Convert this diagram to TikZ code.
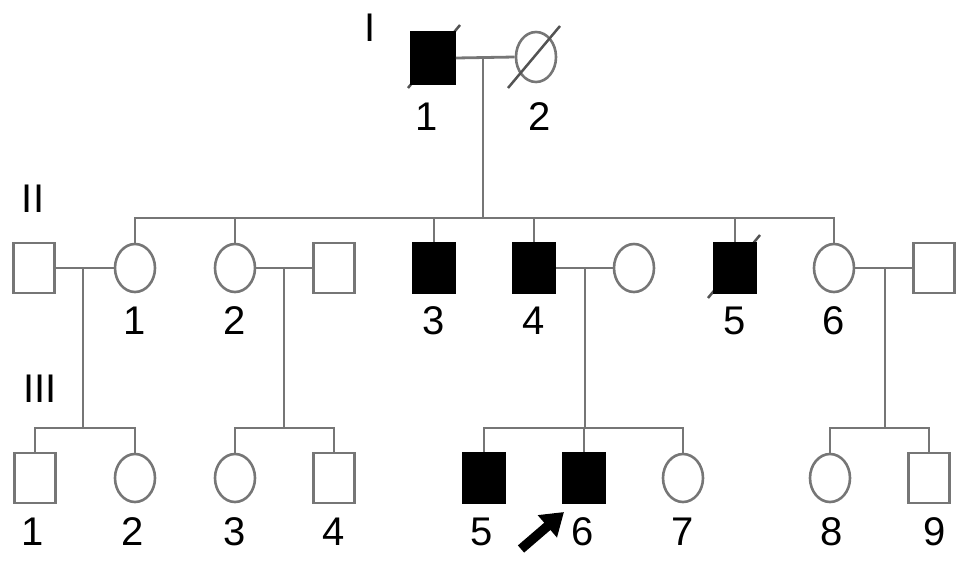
\documentclass[tikz,border=0pt]{standalone}
\usepackage{fontspec}
\setmainfont{Liberation Sans}
\usetikzlibrary{shapes.geometric,arrows.meta}
\definecolor{linegray}{RGB}{118,118,118}
\begin{document}
\begin{tikzpicture}[x=1pt,y=-1pt,
  male/.style={draw=linegray,line width=2.6pt,minimum width=41pt,minimum height=50pt,inner sep=0pt,fill=white},
  aff/.style={male,fill=black,draw=black},
  female/.style={ellipse,draw=linegray,line width=2.6pt,minimum width=40pt,minimum height=48pt,inner sep=0pt,fill=white},
  lnk/.style={draw=linegray,line width=2.8pt},
  dead/.style={draw=linegray!70!black,line width=2.5pt},
  num/.style={font=\fontsize{40}{40}\selectfont,inner sep=0pt},
  gen/.style={font=\fontsize{40}{40}\selectfont,inner sep=0pt}]
\useasboundingbox (0,0) rectangle (969,565);
% Generation I
\node[gen] (gI) at (370,28) {I};
\draw[dead] (408,88) -- (460,25);
\node[aff,minimum width=43pt,minimum height=52pt] (i1) at (433,58) {};
\node[female,minimum height=50pt] (i2) at (536,57) {};
\draw[dead] (508,88) -- (560,26);
\node[num] (li1) at (427,117) {1};
\node[num] (li2) at (540,117) {2};
\coordinate (mI) at (483,58);
\coordinate (sII) at (483,218);
\draw[lnk] (i1.east) -- (i2.west);
\draw[lnk] (mI) -- (sII);
% Generation II
\node[gen] (gII) at (33,199) {II};
\node[male] (s1) at (34,268) {};
\node[female] (ii1) at (135,268) {};
\node[female] (ii2) at (235,268) {};
\node[male] (s2) at (334,268) {};
\node[aff] (ii3) at (434,268) {};
\node[aff] (ii4) at (534,268) {};
\node[female] (s4) at (634,268) {};
\draw[dead] (708,298) -- (760,235);
\node[aff] (ii5) at (735,268) {};
\node[female] (ii6) at (834,268) {};
\node[male] (s6) at (934,268) {};
\node[num] (lii1) at (135,321) {1};
\node[num] (lii2) at (235,321) {2};
\node[num] (lii3) at (434,321) {3};
\node[num] (lii4) at (534,321) {4};
\node[num] (lii5) at (735,321) {5};
\node[num] (lii6) at (834,321) {6};
% sibship II
\draw[lnk] (ii1.north) |- (ii6.north |- sII) -- (ii6.north);
\draw[lnk] (ii2.north) -- (ii2.north |- sII);
\draw[lnk] (ii3.north) -- (ii3.north |- sII);
\draw[lnk] (ii4.north) -- (ii4.north |- sII);
\draw[lnk] (ii5.north) -- (ii5.north |- sII);
% marriages II
\draw[lnk] (s1.east) -- (ii1.west);
\draw[lnk] (ii2.east) -- (s2.west);
\draw[lnk] (ii4.east) -- (s4.west);
\draw[lnk] (ii6.east) -- (s6.west);
\coordinate (m1) at (83,268);
\coordinate (m2) at (284,268);
\coordinate (m4) at (585,268);
\coordinate (m6) at (885,268);
\draw[lnk] (m1) -- (83,428);
\draw[lnk] (m2) -- (284,428);
\draw[lnk] (m4) -- (585,428);
\draw[lnk] (m6) -- (885,428);
% Generation III
\node[gen] (gIII) at (40,389) {III};
\node[male] (iii1) at (35,478) {};
\node[female] (iii2) at (135,478) {};
\node[female] (iii3) at (235,478) {};
\node[male] (iii4) at (334,478) {};
\node[aff] (iii5) at (484,478) {};
\node[aff] (iii6) at (584,478) {};
\node[female] (iii7) at (683,478) {};
\node[female] (iii8) at (830,478) {};
\node[male] (iii9) at (929,478) {};
\draw[lnk] (iii1.north) |- (135,428) -- (iii2.north);
\draw[lnk] (iii3.north) |- (334,428) -- (iii4.north);
\draw[lnk] (iii5.north) |- (683,428) -- (iii7.north);
\draw[lnk] (iii6.north) -- (584,428);
\draw[lnk] (iii8.north) |- (929,428) -- (iii9.north);
\node[num] (liii1) at (33,532) {1};
\node[num] (liii2) at (133,532) {2};
\node[num] (liii3) at (235,532) {3};
\node[num] (liii4) at (334,532) {4};
\node[num] (liii5) at (482,532) {5};
\node[num] (liii6) at (583,532) {6};
\node[num] (liii7) at (683,532) {7};
\node[num] (liii8) at (832,532) {8};
\node[num] (liii9) at (935,532) {9};
% proband arrow
\coordinate (pa) at (521,549);
\coordinate (pb) at (564,512);
\draw[line width=9.5pt,-{Triangle[length=22pt,width=28pt]}] (pa) -- (pb);
\end{tikzpicture}
\end{document}
